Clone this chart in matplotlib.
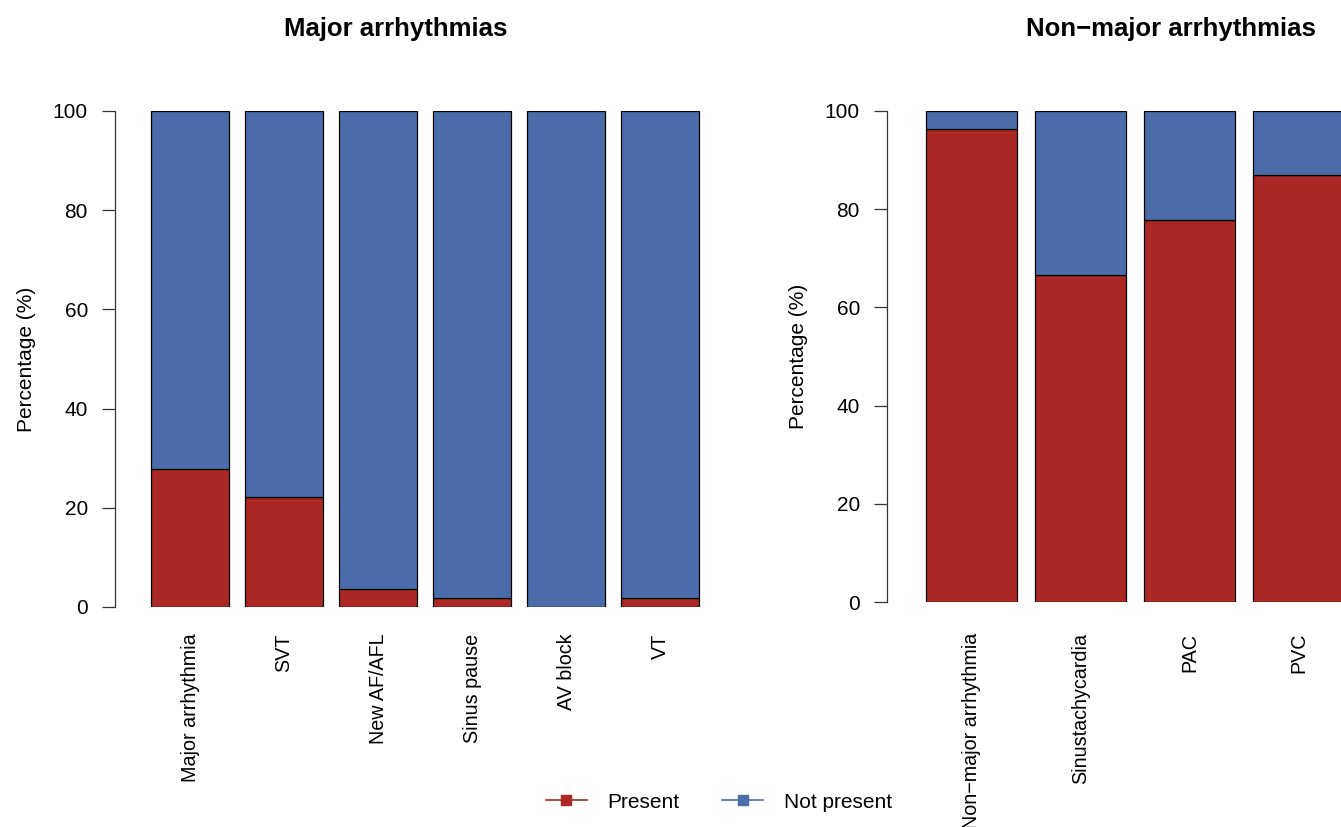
import matplotlib
matplotlib.use("Agg")
import matplotlib.pyplot as plt
from matplotlib.lines import Line2D
import numpy as np

plt.rcParams['font.family'] = ['Liberation Sans', 'DejaVu Sans']

major_categories = ["Major arrhythmia", "SVT", "New AF/AFL", "Sinus pause", "AV block", "VT"]
major_present = [27.8, 22.2, 3.7, 1.85, 0.0, 1.85]
nonmajor_categories = ["Non\u2212major arrhythmia", "Sinustachycardia", "PAC", "PVC"]
nonmajor_present = [96.3, 66.7, 77.8, 87.0]
yticks = [0, 20, 40, 60, 80, 100]

RED = "#AC2825"
BLUE = "#4A6CAA"

W, H = 1341, 827
fig = plt.figure(figsize=(W / 100, H / 100), dpi=100)


def px_axes(left, top, right, bottom):
    return fig.add_axes([left / W, 1 - bottom / H, (right - left) / W, (bottom - top) / H])


def draw_panel(ax, cats, present, spacing_px, first_center_px, left_px, right_px, title, title_x, label_pad):
    x = np.arange(len(cats))
    present = np.array(present)
    notp = 100 - present
    width = 0.835
    ax.bar(x, present, width=width, color=RED, edgecolor="black", linewidth=0.9)
    ax.bar(x, notp, bottom=present, width=width, color=BLUE, edgecolor="black", linewidth=0.9)
    ax.set_xlim((left_px - first_center_px) / spacing_px, (right_px - first_center_px) / spacing_px)
    ax.set_ylim(0, 100)
    for s in ["top", "right", "bottom"]:
        ax.spines[s].set_visible(False)
    ax.spines["left"].set_linewidth(0.9)
    ax.spines["left"].set_color("#333333")
    ax.set_yticks(yticks)
    ax.set_yticklabels([str(v) for v in yticks], fontsize=15)
    ax.tick_params(axis="y", length=9.5, width=0.9, pad=10, color="#333333")
    ax.set_xticks(x)
    ax.set_xticklabels(cats, rotation=90, fontsize=14.2, va="top")
    ax.tick_params(axis="x", length=0, pad=label_pad)
    ax.set_ylabel("Percentage (%)", fontsize=15, labelpad=12)
    fig.text(title_x / W, 1 - 29 / H, title, fontsize=18.5, fontweight="bold", ha="center", va="center")


ax1 = px_axes(115, 111, 712, 607)
draw_panel(ax1, major_categories, major_present, 94.0, 190.0, 115, 712, "Major arrhythmias", 396, 19)

ax2 = px_axes(887, 111, 1420, 602)
draw_panel(ax2, nonmajor_categories, nonmajor_present, 109.0, 971.5, 887, 1420, "Non\u2212major arrhythmias", 1171, 22)

handles = [
    Line2D([0], [0], color=RED, marker="s", markersize=6.5, linewidth=1.2),
    Line2D([0], [0], color=BLUE, marker="s", markersize=6.5, linewidth=1.2),
]
fig.legend(handles, ["Present", "Not present"], loc="center", bbox_to_anchor=(719 / W, 1 - 802 / H),
           ncol=2, frameon=False, fontsize=15, handlelength=1.95, columnspacing=2.05, handletextpad=1.0)

fig.savefig("out.png", dpi=100)
